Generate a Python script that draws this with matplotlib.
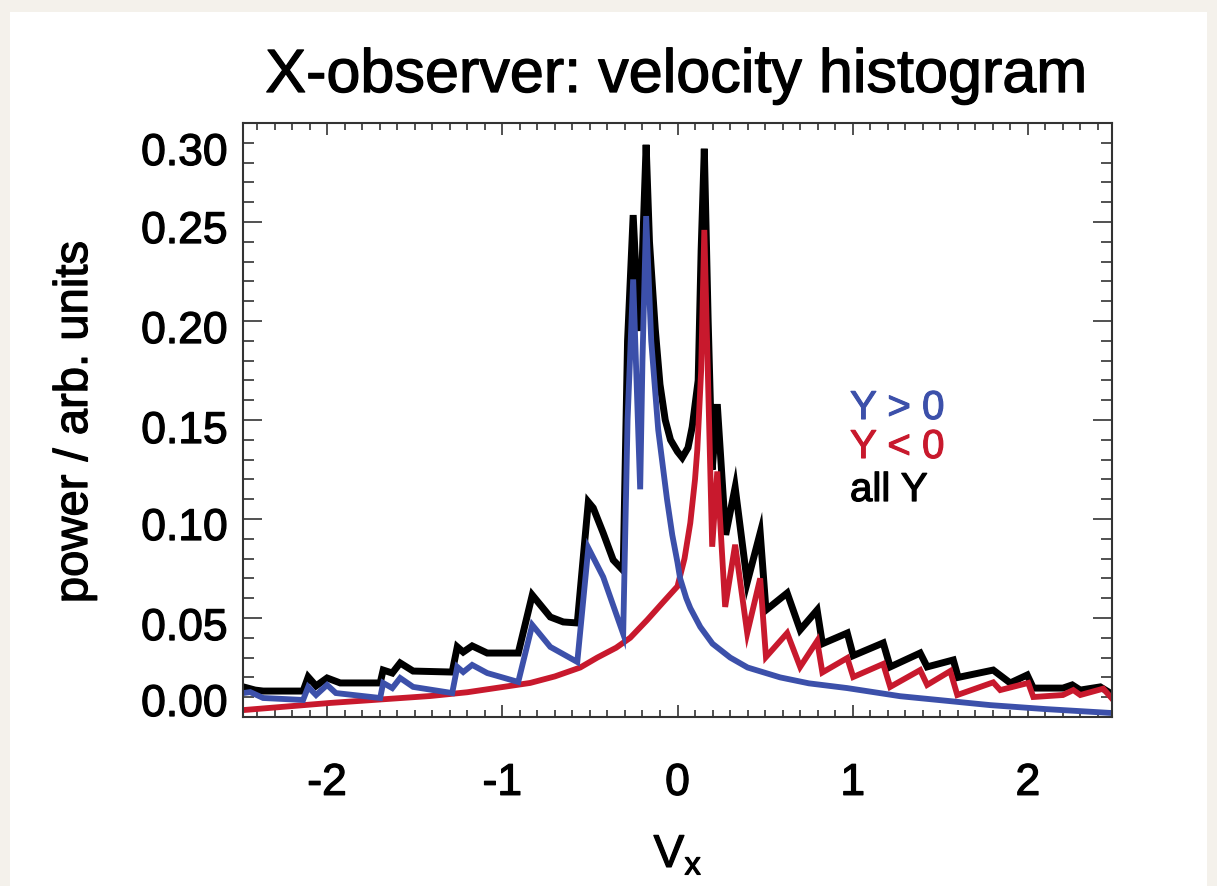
import matplotlib
matplotlib.use("Agg")
import matplotlib.pyplot as plt
import matplotlib.patheffects as pe
from matplotlib.patches import Rectangle
from matplotlib.ticker import MultipleLocator
from matplotlib.transforms import ScaledTranslation

plt.rcParams['font.family'] = ['Liberation Sans', 'DejaVu Sans']

# all Y (black)
vx_all = [-2.478, -2.411, -2.365, -2.137, -2.108, -2.063, -2.000, -1.925, -1.697, -1.680,
          -1.628, -1.583, -1.509, -1.286, -1.257, -1.223, -1.172, -1.086, -0.909, -0.829,
          -0.726, -0.652, -0.572, -0.509, -0.481, -0.424, -0.367, -0.310, -0.285, -0.253,
          -0.232, -0.213, -0.198, -0.179, -0.160, -0.127, -0.100, -0.070, -0.040, 0.000,
          0.027, 0.060, 0.084, 0.118, 0.135, 0.153, 0.175, 0.198, 0.227, 0.275,
          0.329, 0.398, 0.472, 0.505, 0.626, 0.700, 0.797, 0.827, 0.969, 1.003,
          1.174, 1.214, 1.385, 1.425, 1.574, 1.602, 1.802, 1.899, 1.996, 2.031,
          2.200, 2.253, 2.299, 2.413, 2.470]
p_all = [0.0152, 0.0136, 0.0131, 0.0131, 0.0202, 0.0157, 0.0197, 0.0172, 0.0172, 0.0237,
         0.0222, 0.0273, 0.0232, 0.0227, 0.0354, 0.0328, 0.0359, 0.0323, 0.0323, 0.0616,
         0.0505, 0.0480, 0.0475, 0.1086, 0.1056, 0.0929, 0.0793, 0.0740, 0.190, 0.2535,
         0.215, 0.195, 0.240, 0.289, 0.240, 0.196, 0.168, 0.150, 0.140, 0.134,
         0.131, 0.136, 0.1465, 0.170, 0.236, 0.287, 0.200, 0.125, 0.158, 0.092,
         0.116, 0.068, 0.093, 0.054, 0.0626, 0.044, 0.054, 0.037, 0.0424, 0.031,
         0.0374, 0.0253, 0.0323, 0.0253, 0.0288, 0.0200, 0.0237, 0.0172, 0.0212, 0.0146,
         0.0146, 0.0162, 0.0136, 0.0152, 0.0121]

# Y > 0 (blue)
vx_pos = [-2.478, -2.439, -2.365, -2.137, -2.108, -2.063, -2.000, -1.950, -1.697, -1.680,
          -1.628, -1.583, -1.509, -1.286, -1.257, -1.223, -1.172, -1.086, -0.909, -0.829,
          -0.726, -0.572, -0.509, -0.424, -0.310, -0.285, -0.253, -0.213, -0.200, -0.179,
          -0.150, -0.110, -0.060, -0.030, 0.000, 0.015, 0.050, 0.073, 0.130, 0.200,
          0.301, 0.400, 0.586, 0.750, 0.969, 1.271, 1.500, 1.785, 2.100, 2.480]
p_pos = [0.0121, 0.0126, 0.0096, 0.0086, 0.0152, 0.0111, 0.0162, 0.0121, 0.0096, 0.0172,
         0.0146, 0.0197, 0.0152, 0.0121, 0.0253, 0.0227, 0.0263, 0.0222, 0.0177, 0.0465,
         0.0354, 0.0278, 0.0854, 0.0707, 0.0420, 0.150, 0.221, 0.115, 0.180, 0.253,
         0.190, 0.145, 0.110, 0.092, 0.078, 0.070, 0.060, 0.055, 0.0455, 0.037,
         0.030, 0.025, 0.020, 0.017, 0.0146, 0.0105, 0.0085, 0.0060, 0.0040, 0.0020]

# Y < 0 (red)
vx_neg = [-2.478, -1.982, -1.411, -1.200, -0.841, -0.700, -0.555, -0.458, -0.350, -0.270,
          -0.173, -0.082, 0.000, 0.040, 0.073, 0.100, 0.113, 0.135, 0.153, 0.198,
          0.227, 0.272, 0.329, 0.398, 0.472, 0.505, 0.626, 0.700, 0.797, 0.827,
          0.969, 1.003, 1.174, 1.214, 1.385, 1.425, 1.557, 1.597, 1.802, 1.842,
          2.002, 2.031, 2.200, 2.259, 2.299, 2.430, 2.487]
p_neg = [0.0035, 0.0071, 0.0106, 0.0125, 0.0172, 0.0205, 0.0250, 0.0300, 0.0350, 0.0400,
         0.0490, 0.0580, 0.0660, 0.0800, 0.0980, 0.1200, 0.1350, 0.1750, 0.2460, 0.0860,
         0.1240, 0.0556, 0.0870, 0.0424, 0.0700, 0.0303, 0.0424, 0.0253, 0.0384, 0.0225,
         0.0298, 0.0202, 0.0268, 0.0152, 0.0237, 0.0162, 0.0232, 0.0111, 0.0175, 0.0136,
         0.0172, 0.0101, 0.0111, 0.0136, 0.0111, 0.0143, 0.0086]

x_ticks = [-2, -1, 0, 1, 2]
y_ticks = [0.00, 0.05, 0.10, 0.15, 0.20, 0.25, 0.30]

blue = '#3C50AA'
red = '#C8192D'

fig = plt.figure(figsize=(12.17, 8.86), dpi=100, facecolor='#F4F1EB')
fig.patches.append(Rectangle((10 / 1217, 0), (1207 - 10) / 1217, (886 - 12) / 886,
                             transform=fig.transFigure, facecolor='white',
                             edgecolor='none', zorder=-1))

ax = fig.add_axes([243 / 1217, 1 - 717 / 886, (1112 - 243) / 1217, (717 - 123) / 886])

ax.plot(vx_all, p_all, color='black', lw=5.0, solid_joinstyle='miter')
ax.plot(vx_neg, p_neg, color=red, lw=4.2, solid_joinstyle='miter')
ax.plot(vx_pos, p_pos, color=blue, lw=4.2, solid_joinstyle='miter')

ax.set_xlim(-2.48, 2.48)
ax.set_ylim(0, 0.30)
ax.set_xticks(x_ticks)
ax.set_yticks(y_ticks)
ax.set_xticklabels([str(v) for v in x_ticks])
ax.set_yticklabels(['%.2f' % v for v in y_ticks])
ax.xaxis.set_minor_locator(MultipleLocator(0.1))
ax.yaxis.set_minor_locator(MultipleLocator(0.01))

ax.tick_params(axis='both', which='both', direction='in', top=True, right=True,
               width=1.2, color='#333333')
ax.tick_params(axis='x', which='major', length=8.5, labelsize=32, pad=33)
ax.tick_params(axis='x', which='minor', length=5)
ax.tick_params(axis='y', which='major', length=13.5, labelsize=32, pad=11)
ax.tick_params(axis='y', which='minor', length=8)
for sp in ax.spines.values():
    sp.set_linewidth(1.5)
    sp.set_color('#333333')

# heavier strokes, like the original's Helvetica
heavy = [pe.withStroke(linewidth=0.9, foreground='black')]

# y labels sit a little below their ticks, the end ones pushed inward
shifts = [-17, 6, 5, 7, 6, 5, 26]
for lab, dy in zip(ax.get_yticklabels(), shifts):
    lab.set_transform(lab.get_transform() + ScaledTranslation(0, -dy / 100, fig.dpi_scale_trans))
for lab in ax.get_yticklabels() + ax.get_xticklabels():
    lab.set_path_effects(heavy)

fig.text(677 / 1217, 1 - 92 / 886, 'X-observer: velocity histogram', fontsize=44,
         ha='center', va='baseline', path_effects=heavy)
fig.text(75 / 1217, 1 - 422 / 886, 'power / arb. units', fontsize=34, rotation=90,
         ha='center', va='center', path_effects=heavy)
fig.text(678 / 1217, 1 - 855 / 886, r'V$_{\mathregular{x}}$', fontsize=33,
         ha='center', va='center', path_effects=heavy)

fig.text(850 / 1217, 1 - 408 / 886, 'Y > 0', color=blue, fontsize=29, va='center',
         path_effects=[pe.withStroke(linewidth=0.8, foreground=blue)])
fig.text(850 / 1217, 1 - 447 / 886, 'Y < 0', color=red, fontsize=29, va='center',
         path_effects=[pe.withStroke(linewidth=0.8, foreground=red)])
fig.text(850 / 1217, 1 - 490 / 886, 'all Y', color='black', fontsize=29, va='center',
         path_effects=heavy)

fig.savefig('out.png', dpi=100, facecolor=fig.get_facecolor())
